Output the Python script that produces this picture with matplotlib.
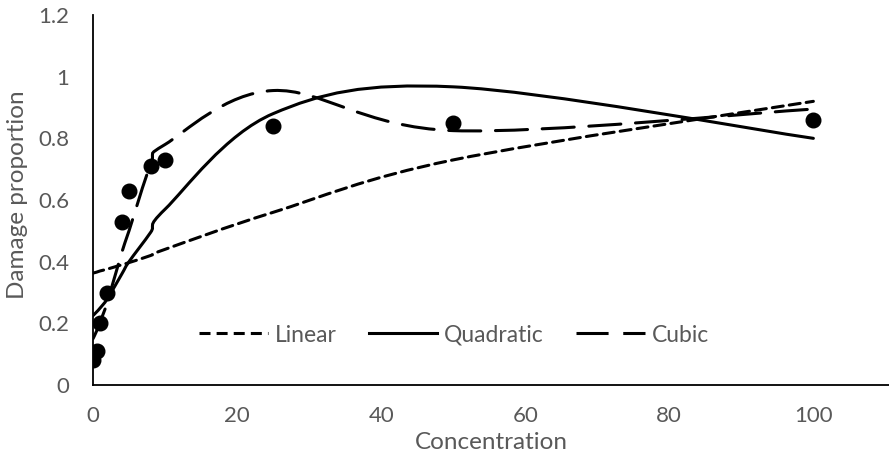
import numpy as np
import matplotlib.pyplot as plt
from matplotlib.path import Path
from matplotlib.patches import PathPatch

plt.rcParams['font.family'] = ['Lato', 'DejaVu Sans']

# measured damage and the three fitted models, evaluated at each concentration
conc = [0, 0.5, 1, 2, 4, 5, 8, 10, 25, 50, 100]
damage = [0.08, 0.11, 0.20, 0.30, 0.53, 0.63, 0.71, 0.73, 0.84, 0.85, 0.86]
fit_linear = [0.363, 0.366, 0.370, 0.376, 0.390, 0.397, 0.420, 0.440, 0.560, 0.730, 0.920]
fit_quadratic = [0.225, 0.237, 0.250, 0.280, 0.360, 0.400, 0.495, 0.570, 0.880, 0.967, 0.800]
fit_cubic = [0.150, 0.175, 0.205, 0.270, 0.430, 0.500, 0.715, 0.780, 0.955, 0.825, 0.895]

ticks_x = [0, 20, 40, 60, 80, 100]
ticks_y = [0, 0.2, 0.4, 0.6, 0.8, 1.0, 1.2]
tick_labels_y = ['0', '0.2', '0.4', '0.6', '0.8', '1', '1.2']

grey = '#595959'


def smooth_path(x, y):
    # spreadsheet-style smoothed line: cubic bezier through every point
    pts = np.column_stack([x, y]).astype(float)
    n = len(pts)
    verts = [pts[0]]
    codes = [Path.MOVETO]
    for i in range(n - 1):
        p0 = pts[max(i - 1, 0)]
        p1 = pts[i]
        p2 = pts[i + 1]
        p3 = pts[min(i + 2, n - 1)]
        verts += [p1 + (p2 - p0) / 6, p2 - (p3 - p1) / 6, p2]
        codes += [Path.CURVE4] * 3
    return Path(verts, codes)


fig = plt.figure(figsize=(8.89, 4.61), dpi=100)
ax = fig.add_axes([93 / 889, 1 - 385 / 461, 1 - 93 / 889, 370 / 461])

styles = {
    'Linear': (fit_linear, (0, (3.6, 2.0))),
    'Quadratic': (fit_quadratic, '-'),
    'Cubic': (fit_cubic, (0, (10.5, 4.8))),
}
lw = 2.2
for name, (vals, ls) in styles.items():
    ax.add_patch(PathPatch(smooth_path(conc, vals), fill=False, lw=lw,
                           ls=ls, edgecolor='black', capstyle='round'))
    ax.plot([], [], color='black', lw=lw, ls=ls, label=name)

ax.plot(conc, damage, 'o', color='black', markersize=10.5, zorder=5)

ax.set_xlim(0, 110.5)
ax.set_ylim(0, 1.2)
ax.set_xticks(ticks_x)
ax.set_yticks(ticks_y)
ax.set_yticklabels(tick_labels_y)
ax.tick_params(length=0, labelsize=16, colors=grey)
ax.tick_params(axis='y', pad=17)
ax.tick_params(axis='x', pad=15)

for side in ['top', 'right']:
    ax.spines[side].set_visible(False)
for side in ['left', 'bottom']:
    ax.spines[side].set_color('black')
    ax.spines[side].set_linewidth(1.3)

ax.set_xlabel('Concentration', fontsize=17.5, color=grey)
ax.set_ylabel('Damage proportion', fontsize=17.5, color=grey)
ax.xaxis.set_label_coords(0.5, -(442 - 385) / 370)
ax.xaxis.label.set_va('center')
ax.yaxis.set_label_coords((18 - 93) / 796, (385 - 195) / 370)
ax.yaxis.label.set_va('center')

leg = ax.legend(loc='center', bbox_to_anchor=(454 / 889, 1 - 335 / 461),
                bbox_transform=fig.transFigure, ncol=3, frameon=False,
                fontsize=16.5, handlelength=3.0, handletextpad=0.3,
                columnspacing=1.4)
for t in leg.get_texts():
    t.set_color(grey)

fig.savefig('out.png', dpi=100)
